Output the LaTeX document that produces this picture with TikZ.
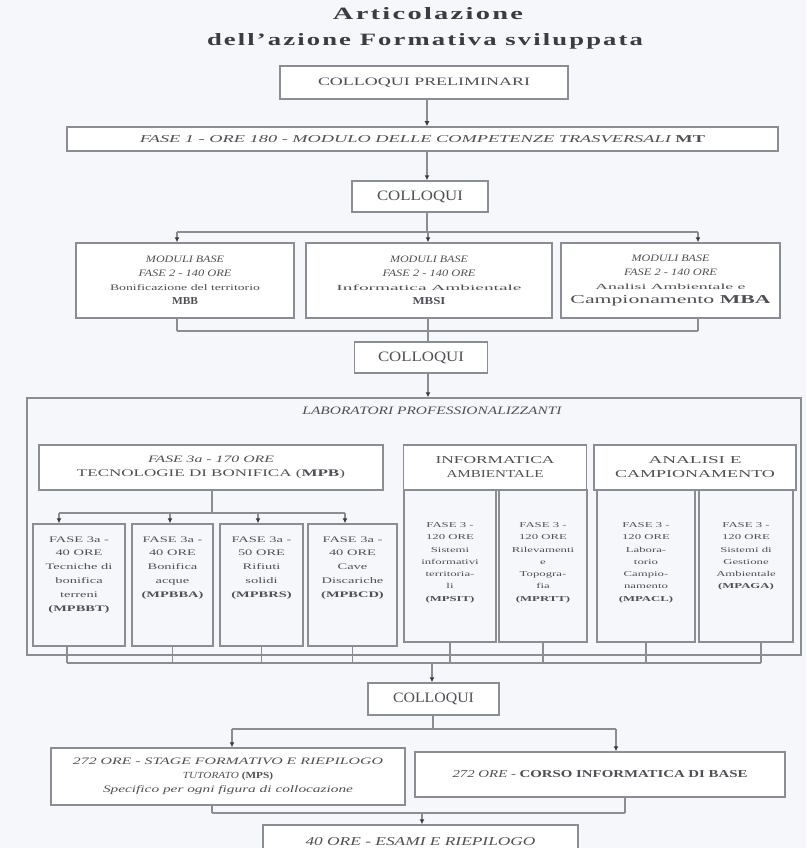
\documentclass[tikz,border=0pt]{standalone}
\usepackage{graphicx}
\usepackage{fontspec}
\setmainfont{Liberation Serif}
\newfontfamily\subf{Liberation Serif}[FakeStretch=1.7]
\usetikzlibrary{arrows.meta}
\definecolor{bg}{HTML}{F5F7FB}
\definecolor{lc}{HTML}{8A8D94}
\definecolor{tx}{HTML}{4E5055}
\definecolor{tipc}{HTML}{3A3C40}
\newcommand\rl[3]{\resizebox{#1pt}{#2pt}{#3}}
\begin{document}
\begin{tikzpicture}[x=1pt,y=-1pt,
  box/.style={draw=lc, line width=1.5pt, fill=white, text=tx, align=center, inner sep=0pt,
              font=\fontsize{8}{14}\selectfont},
  frame/.style={draw=lc, line width=1.5pt, inner sep=0pt},
  subL/.style={text=tx, align=center, inner sep=0pt, font=\subf\fontsize{8.5}{13.8}\selectfont},
  subM/.style={text=tx, align=center, inner sep=0pt, font=\subf\fontsize{7.5}{12.3}\selectfont},
  conn/.style={draw=lc, line width=1.1pt},
  arr/.style={draw=lc, line width=1.1pt, -{Latex[length=5pt,width=5pt,color=tipc]}},
  ttl/.style={text=tx!75!black, inner sep=0pt}
]
\useasboundingbox (0,0) rectangle (806,848);
\clip (0,0) rectangle (806,848);
\fill[bg] (0,0) rectangle (806,848);

% title
\node[ttl] (t1) at (428,14) {\rl{190}{12}{\bfseries\addfontfeature{LetterSpace=8}Articolazione}};
\node[ttl] (t2) at (425,41) {\rl{436}{12}{\bfseries\addfontfeature{LetterSpace=8}dell'azione Formativa sviluppata}};

% top chain
\node[box, minimum width=288, minimum height=33] (cp) at (424,82.5) {\rl{212}{7.5}{COLLOQUI PRELIMINARI}};
\node[box, minimum width=711, minimum height=24] (f1) at (422.5,139)
  {\rl{565}{7}{\itshape FASE 1 - ORE 180 - MODULO DELLE COMPETENZE TRASVERSALI \upshape\bfseries MT}};
\node[box, minimum width=136, minimum height=31] (c1) at (420,196.5) {\rl{86}{9.5}{COLLOQUI}};

\coordinate (ax1) at (427,0);
\draw[arr] (cp.south -| ax1) -- (f1.north -| ax1);
\draw[arr] (f1.south -| ax1) -- (c1.north -| ax1);

% base modules
\node[box, minimum width=218, minimum height=75] (mA) at (185,280.5)
  {\rl{78}{6.5}{\itshape MODULI BASE}\\\rl{93}{6.5}{\itshape FASE 2 - 140 ORE}\\\rl{150}{6}{Bonificazione del territorio}\\\rl{26}{7}{\bfseries MBB}};
\node[box, minimum width=246, minimum height=75] (mB) at (429,280.5)
  {\rl{78}{6.5}{\itshape MODULI BASE}\\\rl{93}{6.5}{\itshape FASE 2 - 140 ORE}\\\rl{185}{5.5}{Informatica Ambientale}\\\rl{33}{7}{\bfseries MBSI}};
\node[box, minimum width=219, minimum height=75] (mC) at (670.5,280.5)
  {\rl{78}{6.5}{\itshape MODULI BASE}\\\rl{93}{6.5}{\itshape FASE 2 - 140 ORE}\\\rl{150}{5.5}{Analisi Ambientale e}\\\rl{200}{8}{Campionamento \bfseries MBA}};

\coordinate (j1) at (427,232);
\coordinate (pA) at (177,0);
\coordinate (pB) at (428,0);
\coordinate (pC) at (698,0);
\draw[conn] (c1.south -| j1) -- (j1);
\draw[conn] (pA |- j1) -- (pC |- j1);
\draw[arr] (pA |- j1) -- (pA |- mA.north);
\draw[arr] (pB |- j1) -- (pB |- mB.north);
\draw[arr] (pC |- j1) -- (pC |- mC.north);

\node[box, minimum width=133, minimum height=31] (c2) at (421,357.5) {\rl{86}{9.5}{COLLOQUI}};
\coordinate (j2) at (428,331);
\draw[conn] (pA |- mA.south) -- (pA |- j2);
\draw[conn] (pB |- mB.south) -- (pB |- j2);
\draw[conn] (pC |- mC.south) -- (pC |- j2);
\draw[conn] (pA |- j2) -- (pC |- j2);
\draw[conn] (j2) -- (j2 |- c2.north);

% laboratory container
\node[frame, minimum width=774, minimum height=257] (lab) at (414,526.5) {};
\node[text=tx, inner sep=0pt] (labt) at (432,411) {\rl{259}{7.5}{\itshape LABORATORI PROFESSIONALIZZANTI}};
\draw[arr] (c2.south -| j2) -- (lab.north -| j2);

% section headers
\node[box, minimum width=344, minimum height=45] (hL) at (211,467.5)
  {\rl{126}{6.5}{\itshape FASE 3a - 170 ORE}\\\rl{268}{7}{TECNOLOGIE DI BONIFICA (\textbf{MPB})}};
\node[box, minimum width=183, minimum height=45] (hM) at (495,467.5)
  {\rl{119}{7}{INFORMATICA}\\\rl{97}{7}{AMBIENTALE}};
\node[box, minimum width=202, minimum height=45] (hR) at (695,467.5)
  {\rl{93}{7}{ANALISI E}\\\rl{160}{7}{CAMPIONAMENTO}};

% left sub boxes
\node[frame, minimum width=92, minimum height=122] (l1) at (79,585) {};
\node[frame, minimum width=81, minimum height=122] (l2) at (172.5,585) {};
\node[frame, minimum width=83, minimum height=122] (l3) at (261.5,585) {};
\node[frame, minimum width=89, minimum height=122] (l4) at (352.5,585) {};
\node[subL, anchor=north] (l1t) at ([yshift=-13pt]l1.north) {FASE 3a -\\40 ORE\\Tecniche di\\bonifica\\terreni\\\textbf{(MPBBT)}};
\node[subL, anchor=north] (l2t) at ([yshift=-13pt]l2.north) {FASE 3a -\\40 ORE\\Bonifica\\acque\\\textbf{(MPBBA)}};
\node[subL, anchor=north] (l3t) at ([yshift=-13pt]l3.north) {FASE 3a -\\50 ORE\\Rifiuti\\solidi\\\textbf{(MPBRS)}};
\node[subL, anchor=north] (l4t) at ([yshift=-13pt]l4.north) {FASE 3a -\\40 ORE\\Cave\\Discariche\\\textbf{(MPBCD)}};

\coordinate (j3) at (212,513);
\coordinate (q1) at (59,0);
\coordinate (q2) at (170,0);
\coordinate (q3) at (258,0);
\coordinate (q4) at (345,0);
\draw[conn] (hL.south -| j3) -- (j3);
\draw[conn] (q1 |- j3) -- (q4 |- j3);
\draw[arr] (q1 |- j3) -- (q1 |- l1.north);
\draw[arr] (q2 |- j3) -- (q2 |- l2.north);
\draw[arr] (q3 |- j3) -- (q3 |- l3.north);
\draw[arr] (q4 |- j3) -- (q4 |- l4.north);

% middle and right sub boxes
\node[frame, minimum width=92, minimum height=152] (m1) at (450,566) {};
\node[frame, minimum width=88, minimum height=152] (m2) at (543,566) {};
\node[frame, minimum width=98, minimum height=152] (r1) at (646,566) {};
\node[frame, minimum width=94, minimum height=152] (r2) at (746,566) {};
\node[subM, anchor=north] (m1t) at ([yshift=-33pt]m1.north) {FASE 3 -\\120 ORE\\Sistemi\\informativi\\territoria-\\li\\\textbf{(MPSIT)}};
\node[subM, anchor=north] (m2t) at ([yshift=-33pt]m2.north) {FASE 3 -\\120 ORE\\Rilevamenti\\e\\Topogra-\\fia\\\textbf{(MPRTT)}};
\node[subM, anchor=north] (r1t) at ([yshift=-33pt]r1.north) {FASE 3 -\\120 ORE\\Labora-\\torio\\Campio-\\namento\\\textbf{(MPACL)}};
\node[subM, anchor=north] (r2t) at ([yshift=-33pt]r2.north) {FASE 3 -\\120 ORE\\Sistemi di\\Gestione\\Ambientale\\\textbf{(MPAGA)}};

% collecting line below
\coordinate (j4) at (432,663);
\coordinate (b1) at (67,0);
\coordinate (b8) at (761,0);
\draw[conn] (b1 |- l1.south) -- (b1 |- j4);
\foreach \n in {l2,l3,l4,m1,m2,r1}{\draw[conn] (\n.south) -- (\n.south |- j4);}
\draw[conn] (b8 |- r2.south) -- (b8 |- j4);
\draw[conn] (b1 |- j4) -- (b8 |- j4);

\node[box, minimum width=131, minimum height=32] (c3) at (433.5,699) {\rl{81}{9.5}{COLLOQUI}};
\draw[arr] (j4) -- (j4 |- c3.north);

% stage and course
\node[box, minimum width=354, minimum height=57] (sL) at (228,776.5)
  {\rl{310}{6.5}{\itshape 272 ORE - STAGE FORMATIVO E RIEPILOGO}\\\rl{90}{6.5}{\itshape TUTORATO \upshape\bfseries(MPS)}\\\rl{250}{7}{\itshape Specifico per ogni figura di collocazione}};
\node[box, minimum width=370, minimum height=45] (sR) at (600,774.5)
  {\rl{295}{7}{\itshape 272 ORE - \upshape\bfseries CORSO INFORMATICA DI BASE}};

\coordinate (j5) at (433,729);
\coordinate (s1) at (232,0);
\coordinate (s2) at (616,0);
\draw[conn] (c3.south -| j5) -- (j5);
\draw[conn] (s1 |- j5) -- (s2 |- j5);
\draw[arr] (s1 |- j5) -- (s1 |- sL.north);
\draw[arr] (s2 |- j5) -- (s2 |- sR.north);

\node[box, minimum width=315, minimum height=34] (fin) at (420.5,842)
  {\rl{230}{8}{\itshape 40 ORE - ESAMI E RIEPILOGO}};
\coordinate (j6) at (422,813);
\coordinate (u1) at (212,0);
\coordinate (u2) at (625,0);
\draw[conn] (u1 |- sL.south) -- (u1 |- j6);
\draw[conn] (u2 |- sR.south) -- (u2 |- j6);
\draw[conn] (u1 |- j6) -- (u2 |- j6);
\draw[arr] (j6) -- (j6 |- fin.north);
\end{tikzpicture}
\end{document}
